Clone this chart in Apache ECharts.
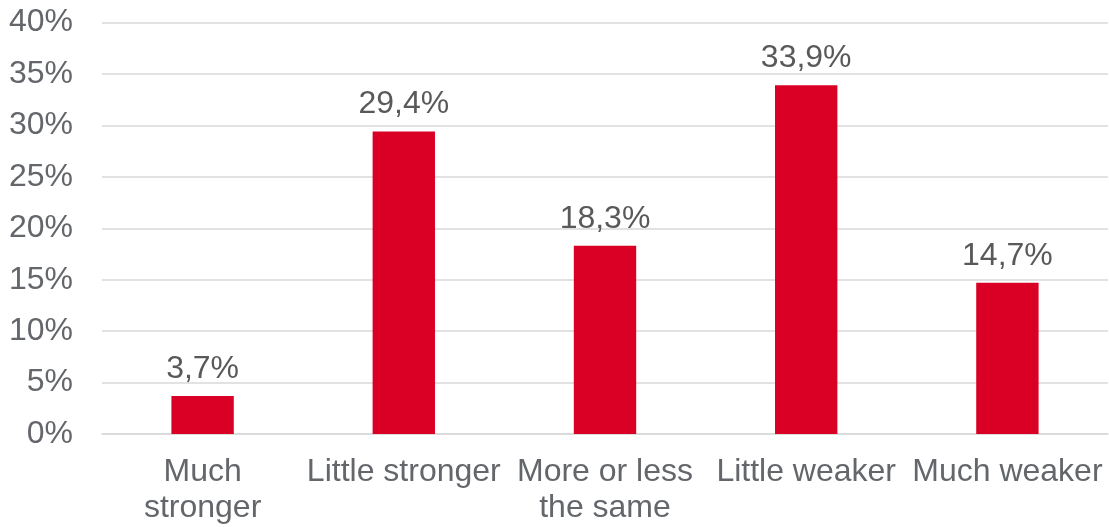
<!DOCTYPE html>
<html>
<head>
<meta charset="utf-8">
<script src="https://cdn.jsdelivr.net/npm/echarts@6/dist/echarts.min.js"></script>
<style>
html,body{margin:0;padding:0;background:#fff;}
#chart{width:1109px;height:527px;}
</style>
</head>
<body>
<div id="chart"></div>
<script>
const categories = ['Much\nstronger', 'Little stronger', 'More or less\nthe same', 'Little weaker', 'Much weaker'];
const values = [3.7, 29.4, 18.3, 33.9, 14.7];
const yTicks = [0, 5, 10, 15, 20, 25, 30, 35, 40];

const chart = echarts.init(document.getElementById('chart'));
chart.setOption({
  animation: false,
  backgroundColor: '#ffffff',
  grid: { left: 102, right: 1, top: 22.5, bottom: 93, outerBoundsMode: 'none', containLabel: false },
  xAxis: {
    type: 'category',
    data: categories,
    axisLine: { show: true, lineStyle: { color: '#d9d9d9', width: 1.5 } },
    axisTick: { show: false },
    axisLabel: {
      interval: 0, color: '#63666a', fontSize: 32, fontFamily: 'Liberation Sans, Arial, sans-serif',
      lineHeight: 36, margin: 20
    }
  },
  yAxis: {
    type: 'value',
    min: yTicks[0], max: yTicks[yTicks.length - 1], interval: 5,
    axisLine: { show: false },
    axisTick: { show: false },
    splitLine: { lineStyle: { color: '#d9d9d9', width: 1.5 } },
    axisLabel: {
      color: '#63666a', fontSize: 32, fontFamily: 'Liberation Sans, Arial, sans-serif', margin: 29,
      formatter: v => v + '%'
    }
  },
  series: [{
    type: 'bar',
    data: values,
    barWidth: '31%',
    itemStyle: { color: '#da0025' },
    label: {
      show: true, position: 'top', distance: 11,
      color: '#595959', fontSize: 32, fontFamily: 'Liberation Sans, Arial, sans-serif',
      formatter: p => String(p.value.toFixed(1)).replace('.', ',') + '%'
    }
  }]
});
</script>
</body>
</html>
